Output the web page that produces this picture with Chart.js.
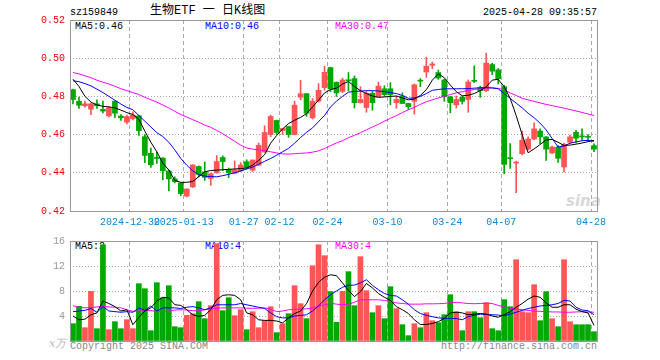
<!DOCTYPE html>
<html>
<head>
<meta charset="utf-8">
<script src="https://cdn.jsdelivr.net/npm/chart.js@4.4.1/dist/chart.umd.min.js"></script>
<style>
  body { margin: 0; background: #fff; width: 660px; height: 360px; position: relative; overflow: hidden;
         font-family: "Liberation Mono", "DejaVu Sans Mono", monospace; font-size: 10px; }
  .t { position: absolute; white-space: nowrap; line-height: 10px; }
  canvas { position: absolute; left: 0; }
</style>
</head>
<body>
<div class="t" style="left:70px;top:8px;color:#000">sz159849</div>
<div class="t" style="left:150px;top:4px;font:12px 'Liberation Mono','Noto Sans CJK SC',monospace;line-height:14px;color:#000">生物ETF 一 日K线图</div>
<div class="t" style="right:63px;top:8px;color:#000">2025-04-28 09:35:57</div>
<div class="t" style="left:75px;top:22px;color:#000">MA5:0.46</div>
<div class="t" style="left:205px;top:22px;color:#0000ff">MA10:0.46</div>
<div class="t" style="left:335px;top:22px;color:#ff00ff">MA30:0.47</div>
<div class="t" style="left:75px;top:242px;color:#000">MA5:2</div>
<div class="t" style="left:205px;top:242px;color:#0000ff">MA10:4</div>
<div class="t" style="left:335px;top:242px;color:#ff00ff">MA30:4</div>
<div class="t" style="left:49px;top:336px;font:italic 11px 'DejaVu Serif',serif;color:#bbb">x万</div>
<div class="t" style="left:70px;top:342px;color:#888">Copyright 2025 SINA.COM</div>
<div class="t" style="right:63px;top:342px;color:#888">http://finance.sina.com.cn</div>
<div class="t" style="left:566px;top:192px;font:italic bold 15px 'DejaVu Sans',sans-serif;color:#d8d8d8">sina</div>

<canvas id="price" width="660" height="230" style="top:0"></canvas>
<canvas id="vol" width="660" height="130" style="top:230px"></canvas>

<script>
const dates = [
  '2024-12-16','2024-12-17','2024-12-18','2024-12-19','2024-12-20','2024-12-23','2024-12-24','2024-12-25','2024-12-26','2024-12-27',
  '2024-12-30','2024-12-31','2025-01-02','2025-01-03','2025-01-06','2025-01-07','2025-01-08','2025-01-09','2025-01-10','2025-01-13',
  '2025-01-14','2025-01-15','2025-01-16','2025-01-17','2025-01-20','2025-01-21','2025-01-22','2025-01-23','2025-01-24','2025-01-27',
  '2025-02-05','2025-02-06','2025-02-07','2025-02-10','2025-02-11','2025-02-12','2025-02-13','2025-02-14','2025-02-17','2025-02-18',
  '2025-02-19','2025-02-20','2025-02-21','2025-02-24','2025-02-25','2025-02-26','2025-02-27','2025-02-28','2025-03-03','2025-03-04',
  '2025-03-05','2025-03-06','2025-03-07','2025-03-10','2025-03-11','2025-03-12','2025-03-13','2025-03-14','2025-03-17','2025-03-18',
  '2025-03-19','2025-03-20','2025-03-21','2025-03-24','2025-03-25','2025-03-26','2025-03-27','2025-03-28','2025-03-31','2025-04-01',
  '2025-04-02','2025-04-03','2025-04-07','2025-04-08','2025-04-09','2025-04-10','2025-04-11','2025-04-14','2025-04-15','2025-04-16',
  '2025-04-17','2025-04-18','2025-04-21','2025-04-22','2025-04-23','2025-04-24','2025-04-25','2025-04-28'
];

const tickDates = ['2024-12-30','2025-01-13','2025-01-27','2025-02-12','2025-02-24','2025-03-10','2025-03-24','2025-04-07','2025-04-28'];
const tickText  = ['2024-12-30','2025-01-13','01-27','02-12','02-24','03-10','03-24','04-07','04-28'];

const open = [
  0.4835,0.4774,0.4751,0.4733,0.4761,0.4732,0.4698,0.4775,0.4697,0.4665,0.4684,0.4698,0.4589,0.4502,0.4477,
  0.4477,0.4410,0.4368,0.4346,0.4278,0.4326,0.4433,0.4405,0.4370,0.4400,0.4480,0.4418,0.4398,0.4410,0.4458,
  0.4414,0.4440,0.4509,0.4600,0.4674,0.4621,0.4642,0.4600,0.4796,0.4814,0.4688,0.4775,0.4846,0.4951,0.4874,
  0.4826,0.4884,0.4893,0.4767,0.4742,0.4816,0.4798,0.4840,0.4840,0.4767,0.4802,0.4763,0.4774,0.4882,0.4928,
  0.4963,0.4925,0.4886,0.4798,0.4756,0.4795,0.4784,0.4882,0.4847,0.4830,0.4967,0.4939,0.4851,0.4476,0.4451,
  0.4500,0.4524,0.4577,0.4619,0.4588,0.4504,0.4535,0.4430,0.4560,0.4612,0.4592,0.4588,0.4542
];
const high = [
  0.4838,0.4796,0.4775,0.4763,0.4782,0.4775,0.4747,0.4777,0.4705,0.4702,0.4719,0.4702,0.4600,0.4530,0.4509,
  0.4479,0.4412,0.4379,0.4348,0.4317,0.4442,0.4436,0.4457,0.4398,0.4490,0.4489,0.4425,0.4462,0.4453,0.4468,
  0.4467,0.4556,0.4646,0.4702,0.4676,0.4633,0.4644,0.4775,0.4884,0.4816,0.4789,0.4867,0.4958,0.4953,0.4876,
  0.4896,0.4925,0.4907,0.4851,0.4826,0.4826,0.4875,0.4856,0.4872,0.4802,0.4819,0.4765,0.4865,0.4893,0.5005,
  0.4980,0.4938,0.4890,0.4800,0.4802,0.4802,0.4886,0.4960,0.4854,0.5026,0.4974,0.4946,0.4858,0.4553,0.4461,
  0.4619,0.4588,0.4661,0.4630,0.4590,0.4540,0.4542,0.4555,0.4598,0.4623,0.4630,0.4600,0.4552
];
const low = [
  0.4761,0.4737,0.4744,0.4705,0.4737,0.4714,0.4693,0.4688,0.4674,0.4656,0.4677,0.4596,0.4453,0.4428,0.4449,
  0.4363,0.4305,0.4347,0.4281,0.4273,0.4323,0.4378,0.4360,0.4334,0.4398,0.4411,0.4375,0.4395,0.4405,0.4420,
  0.4407,0.4438,0.4508,0.4589,0.4600,0.4600,0.4586,0.4598,0.4782,0.4695,0.4681,0.4770,0.4832,0.4825,0.4800,
  0.4819,0.4828,0.4739,0.4765,0.4717,0.4728,0.4796,0.4800,0.4756,0.4738,0.4763,0.4731,0.4707,0.4851,0.4900,
  0.4945,0.4889,0.4774,0.4714,0.4739,0.4760,0.4717,0.4872,0.4795,0.4825,0.4914,0.4865,0.4395,0.4423,0.4296,
  0.4493,0.4520,0.4574,0.4553,0.4465,0.4500,0.4454,0.4405,0.4555,0.4556,0.4570,0.4570,0.4510
];
const close = [
  0.4784,0.4754,0.4761,0.4761,0.4751,0.4723,0.4740,0.4712,0.4688,0.4695,0.4702,0.4621,0.4491,0.4442,0.4475,
  0.4410,0.4368,0.4354,0.4291,0.4315,0.4441,0.4392,0.4376,0.4395,0.4459,0.4459,0.4401,0.4415,0.4441,0.4428,
  0.4467,0.4544,0.4611,0.4695,0.4611,0.4632,0.4600,0.4754,0.4814,0.4712,0.4775,0.4832,0.4926,0.4839,0.4818,
  0.4886,0.4882,0.4767,0.4784,0.4816,0.4767,0.4854,0.4809,0.4809,0.4784,0.4763,0.4746,0.4861,0.4880,0.4958,
  0.4970,0.4896,0.4798,0.4767,0.4784,0.4774,0.4875,0.4879,0.4830,0.4974,0.4932,0.4893,0.4444,0.4474,0.4454,
  0.4570,0.4577,0.4630,0.4588,0.4524,0.4535,0.4476,0.4549,0.4588,0.4581,0.4588,0.4586,0.4524
];

const ma5 = [
  0.4890,0.4852,0.4800,0.4770,0.4755,0.4748,0.4745,0.4740,0.4728,0.4715,0.4705,0.4680,0.4618,0.4560,0.4510,
  0.4450,0.4415,0.4360,0.4350,0.4350,0.4355,0.4380,0.4405,0.4412,0.4414,0.4416,0.4418,0.4420,0.4422,0.4425,
  0.4440,0.4465,0.4495,0.4555,0.4595,0.4630,0.4658,0.4675,0.4690,0.4710,0.4745,0.4780,0.4818,0.4836,0.4843,
  0.4865,0.4878,0.4852,0.4830,0.4815,0.4802,0.4795,0.4797,0.4800,0.4802,0.4792,0.4782,0.4786,0.4805,0.4835,
  0.4885,0.4918,0.4898,0.4860,0.4825,0.4803,0.4806,0.4815,0.4830,0.4850,0.4885,0.4890,0.4850,0.4790,0.4700,
  0.4600,0.4505,0.4525,0.4548,0.4572,0.4575,0.4560,0.4543,0.4545,0.4550,0.4556,0.4563,0.4570
];
const ma10 = [
  0.4882,0.4877,0.4867,0.4855,0.4838,0.4820,0.4800,0.4780,0.4760,0.4742,0.4730,0.4700,0.4670,0.4640,0.4610,
  0.4590,0.4560,0.4520,0.4475,0.4440,0.4410,0.4390,0.4382,0.4380,0.4379,0.4385,0.4392,0.4400,0.4410,0.4420,
  0.4430,0.4445,0.4460,0.4475,0.4492,0.4510,0.4528,0.4555,0.4585,0.4612,0.4635,0.4668,0.4700,0.4745,0.4775,
  0.4800,0.4822,0.4826,0.4828,0.4830,0.4830,0.4828,0.4825,0.4820,0.4815,0.4805,0.4790,0.4792,0.4800,0.4815,
  0.4832,0.4836,0.4840,0.4840,0.4840,0.4840,0.4841,0.4843,0.4845,0.4846,0.4844,0.4840,0.4815,0.4790,0.4765,
  0.4740,0.4712,0.4688,0.4660,0.4625,0.4580,0.4535,0.4540,0.4555,0.4562,0.4568,0.4570,0.4565
];
const ma30 = [
  0.4925,0.4918,0.4908,0.4898,0.4885,0.4874,0.4865,0.4853,0.4840,0.4830,0.4820,0.4810,0.4795,0.4783,0.4770,
  0.4755,0.4740,0.4722,0.4705,0.4692,0.4678,0.4665,0.4650,0.4638,0.4622,0.4605,0.4585,0.4565,0.4545,0.4530,
  0.4524,0.4520,0.4516,0.4510,0.4504,0.4499,0.4498,0.4500,0.4502,0.4504,0.4508,0.4515,0.4527,0.4542,0.4556,
  0.4568,0.4584,0.4596,0.4610,0.4625,0.4640,0.4654,0.4670,0.4685,0.4700,0.4715,0.4730,0.4743,0.4758,0.4772,
  0.4782,0.4792,0.4800,0.4810,0.4818,0.4825,0.4831,0.4836,0.4840,0.4844,0.4845,0.4842,0.4835,0.4818,0.4805,
  0.4790,0.4782,0.4774,0.4766,0.4758,0.4752,0.4745,0.4738,0.4731,0.4724,0.4716,0.4708,0.4700
];

// volume, unit: 万
const volume = [
  2.77,5.55,2.13,7.95,1.97,15.4,1.81,3.09,1.97,3.41,1.97,9.17,8.37,1.65,9.33,
  6.9,8.85,2.29,2.13,4.1,4.37,6.29,3.57,5.65,15.57,4.85,6.93,4.05,5.01,1.81,
  4.69,2.13,3.25,5.49,1.33,2.77,4.37,8.85,5.97,3.57,12.05,15.4,13.65,7.9,2.99,
  7.95,11.09,5.65,13.49,8.05,4.53,5.65,3.57,8.69,5.17,2.61,0.85,2.77,2.13,4.53,
  3.25,2.93,4.21,7.41,4.69,1.65,4.69,4.69,3.73,6.13,1.97,1.65,6.61,5.49,13.01,
  4.69,4.53,9.01,3.25,7.89,3.57,2.29,13.01,3.09,2.61,2.61,2.61,1.49
];
const vma5 = [
  4.0,3.4,3.5,4.2,4.5,6.4,6.0,5.5,4.8,5.0,2.6,3.8,4.8,5.3,6.4,
  7.0,6.9,5.8,5.7,5.0,4.2,3.95,4.1,5.0,6.6,7.3,7.4,7.3,6.6,4.5,
  4.2,3.4,3.3,3.3,3.2,2.9,3.7,4.4,4.8,6.0,8.0,9.4,10.2,10.6,10.45,
  9.3,8.1,7.1,7.9,9.2,8.5,7.6,7.0,6.5,5.5,5.0,4.4,3.4,2.65,2.65,
  2.8,3.1,3.6,4.5,4.6,4.5,4.2,4.3,4.4,4.3,4.0,3.8,4.2,4.7,5.4,
  6.0,6.7,7.2,7.0,6.1,5.4,5.4,5.8,5.8,5.1,4.7,4.5,2.5
];
const vma10 = [
  4.7,4.8,4.9,5.2,4.6,5.5,4.8,4.7,4.6,4.7,4.6,5.3,4.9,5.6,4.8,
  5.3,5.3,5.3,5.2,5.4,5.5,5.3,5.0,5.3,5.8,5.8,5.8,5.8,6.0,5.8,
  5.6,5.4,5.2,4.5,3.9,3.7,3.7,4.0,4.1,4.2,4.8,5.6,6.6,7.4,8.0,
  8.6,8.9,8.95,9.3,9.8,8.9,8.2,7.6,7.3,7.2,6.6,5.9,5.0,4.4,4.1,
  3.9,3.7,3.63,3.63,3.6,3.4,3.9,4.1,4.3,4.25,4.2,4.15,4.05,4.3,4.6,
  4.9,5.2,5.4,5.6,5.7,5.8,6.0,6.5,6.4,5.4,4.95,4.85,4.2
];
const vma30 = [
  5.65,5.4,5.3,5.35,5.45,5.55,5.45,5.4,5.3,5.0,4.75,4.8,4.9,4.85,4.75,
  4.7,4.8,4.95,5.0,4.95,4.85,4.85,5.0,5.2,5.25,5.3,5.3,5.3,5.3,5.25,
  5.23,5.25,5.3,5.1,4.7,4.8,5.0,5.05,5.1,5.15,5.3,5.55,5.8,6.05,5.9,
  5.8,5.87,6.2,6.6,6.6,6.6,6.6,6.5,6.3,6.1,6.0,5.9,5.9,5.9,5.95,
  5.95,5.97,6.0,6.15,6.2,6.1,6.0,5.97,6.0,6.05,6.0,5.7,5.45,5.25,5.1,
  5.0,4.9,4.8,4.75,4.7,4.65,4.65,4.6,4.6,4.65,4.69,4.65,4.6
];

const UP = '#ff5555';
const DOWN = '#00a800';
const candleColors = close.map((c, i) => c >= open[i] ? UP : DOWN);
const monoFont = { family: "'Liberation Mono', 'DejaVu Sans Mono', monospace", size: 10 };

// plain grey frame round the plot area
const frame = {
  id: 'frame',
  afterDraw(chart) {
    const { ctx, chartArea: a } = chart;
    ctx.save();
    ctx.strokeStyle = '#999';
    ctx.lineWidth = 1;
    ctx.strokeRect(Math.round(a.left) + 0.5, Math.round(a.top) + 0.5,
                   Math.round(a.right - a.left), Math.round(a.bottom - a.top));
    ctx.restore();
  }
};

function maLine(data, color) {
  return { type: 'line', data: data, borderColor: color, borderWidth: 1, pointRadius: 0,
           tension: 0, fill: false, order: 0 };
}

function dateGrid(c) {
  return tickDates.includes(dates[c.index]) ? '#aaa' : 'rgba(0,0,0,0)';
}

new Chart(document.getElementById('price'), {
  type: 'bar',
  data: {
    labels: dates,
    datasets: [
      maLine(ma5, '#000000'),
      maLine(ma10, '#0000ff'),
      maLine(ma30, '#ff00ff'),
      { data: dates.map((d, i) => [low[i], high[i]]), backgroundColor: candleColors,
        barThickness: 1, grouped: false, order: 2 },
      { data: dates.map((d, i) => [open[i], close[i]]), backgroundColor: candleColors,
        barThickness: 5, grouped: false, minBarLength: 1, order: 1 }
    ]
  },
  options: {
    responsive: false,
    animation: false,
    layout: { padding: { top: 20, right: 63, left: 0, bottom: 0 } },
    plugins: { legend: { display: false }, tooltip: { enabled: false } },
    scales: {
      x: {
        ticks: {
          autoSkip: false, maxRotation: 0, minRotation: 0, padding: 5, labelOffset: -3,
          color: '#0a88d8', font: monoFont,
          callback: (v, i) => {
            const k = tickDates.indexOf(dates[i]);
            return k < 0 ? '' : tickText[k];
          }
        },
        grid: { color: dateGrid, drawTicks: false, lineWidth: 1 },
        border: { display: false, dash: [4, 3] },
        afterFit: s => { s.height = 19; }
      },
      y: {
        min: 0.42, max: 0.52,
        ticks: { stepSize: 0.02, color: '#ff0000', font: monoFont, padding: 5,
                 callback: v => v.toFixed(2) },
        grid: { color: '#aaa', drawTicks: false },
        border: { display: false, dash: [1, 2] },
        afterFit: s => { s.width = 70; }
      }
    }
  },
  plugins: [frame]
});

new Chart(document.getElementById('vol'), {
  type: 'bar',
  data: {
    labels: dates,
    datasets: [
      maLine(vma5, '#000000'),
      maLine(vma10, '#0000ff'),
      maLine(vma30, '#ff00ff'),
      { data: volume, backgroundColor: candleColors, barThickness: 5, order: 1 }
    ]
  },
  options: {
    responsive: false,
    animation: false,
    layout: { padding: { top: 10, right: 63, left: 0, bottom: 19 } },
    plugins: { legend: { display: false }, tooltip: { enabled: false } },
    scales: {
      x: {
        ticks: { display: false },
        grid: { color: dateGrid, drawTicks: false },
        border: { display: false, dash: [4, 3] },
        afterFit: s => { s.height = 0; }
      },
      y: {
        min: 0, max: 16,
        ticks: { stepSize: 4, color: '#999', font: monoFont, padding: 5,
                 callback: v => v === 0 ? '' : v },
        grid: { color: '#aaa', drawTicks: false },
        border: { display: false, dash: [1, 2] },
        afterFit: s => { s.width = 70; }
      }
    }
  },
  plugins: [frame]
});
</script>
</body>
</html>
